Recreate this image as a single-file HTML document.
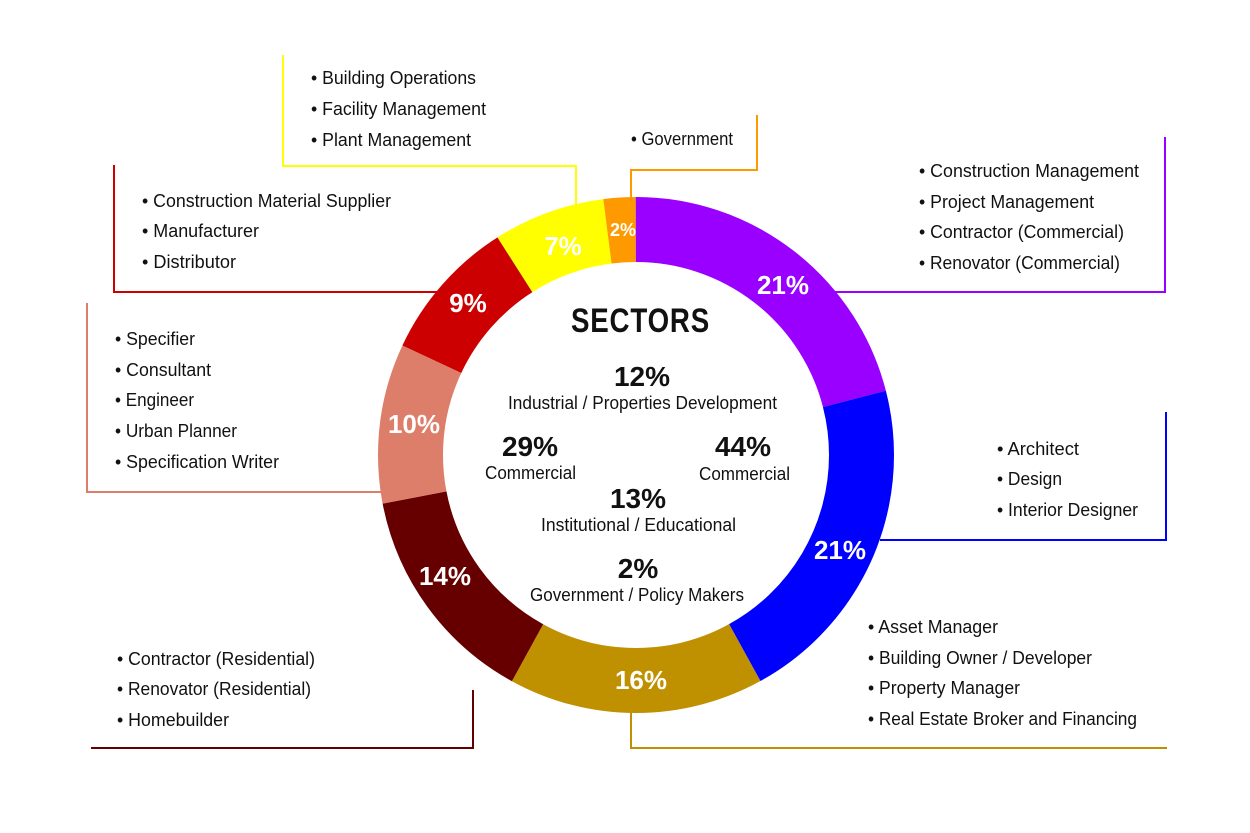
<!DOCTYPE html>
<html><head><meta charset="utf-8"><style>
html,body{margin:0;padding:0;background:#fff;}
svg{display:block;}
text{font-family:"Liberation Sans",sans-serif;}
.l{font-size:18px;fill:#111;}
.p{font-size:26px;font-weight:bold;fill:#fff;}
.c{font-size:28px;font-weight:bold;fill:#111;}
</style></head><body>
<svg width="1250" height="833" viewBox="0 0 1250 833">
<g transform="rotate(-90 636 455)" fill="none" stroke-width="65">
<circle cx="636" cy="455" r="225.5" pathLength="100" stroke="#9900ff" stroke-dasharray="21 79" stroke-dashoffset="0"/>
<circle cx="636" cy="455" r="225.5" pathLength="100" stroke="#0000ff" stroke-dasharray="21 79" stroke-dashoffset="-21"/>
<circle cx="636" cy="455" r="225.5" pathLength="100" stroke="#bf9000" stroke-dasharray="16 84" stroke-dashoffset="-42"/>
<circle cx="636" cy="455" r="225.5" pathLength="100" stroke="#660000" stroke-dasharray="14 86" stroke-dashoffset="-58"/>
<circle cx="636" cy="455" r="225.5" pathLength="100" stroke="#dd7e6b" stroke-dasharray="10 90" stroke-dashoffset="-72"/>
<circle cx="636" cy="455" r="225.5" pathLength="100" stroke="#cc0000" stroke-dasharray="9 91" stroke-dashoffset="-82"/>
<circle cx="636" cy="455" r="225.5" pathLength="100" stroke="#ffff00" stroke-dasharray="7 93" stroke-dashoffset="-91"/>
<circle cx="636" cy="455" r="225.5" pathLength="100" stroke="#ff9900" stroke-dasharray="2 98" stroke-dashoffset="-98"/>
</g>
<g fill="none" stroke-width="2">
<polyline stroke="#ffff00" points="283,55 283,166 576,166 576,205"/>
<polyline stroke="#ff9900" points="757,115 757,170 631,170 631,200"/>
<polyline stroke="#9900ff" points="835,292 1165,292 1165,137"/>
<polyline stroke="#0000ff" points="880,540 1166,540 1166,412"/>
<polyline stroke="#bf9000" points="631,712 631,748 1167,748"/>
<polyline stroke="#660000" points="473,690 473,748 91,748"/>
<polyline stroke="#dd7e6b" points="381,492 87,492 87,303"/>
<polyline stroke="#cc0000" points="440,292 114,292 114,165"/>
</g>
<g class="p" text-anchor="middle">
<text x="783" y="294">21%</text>
<text x="840" y="559">21%</text>
<text x="641" y="689">16%</text>
<text x="445" y="585">14%</text>
<text x="414" y="433">10%</text>
<text x="468" y="312">9%</text>
<text x="563" y="255">7%</text>
<text x="623" y="236" style="font-size:18px">2%</text>
</g>
<g class="l" lengthAdjust="spacingAndGlyphs">
<text x="311" y="84" textLength="165" lengthAdjust="spacingAndGlyphs">• Building Operations</text>
<text x="311" y="115" textLength="175" lengthAdjust="spacingAndGlyphs">• Facility Management</text>
<text x="311" y="146" textLength="160" lengthAdjust="spacingAndGlyphs">• Plant Management</text>
<text x="631" y="145" textLength="102" lengthAdjust="spacingAndGlyphs">• Government</text>
<text x="919" y="177" textLength="220" lengthAdjust="spacingAndGlyphs">• Construction Management</text>
<text x="919" y="208" textLength="175" lengthAdjust="spacingAndGlyphs">• Project Management</text>
<text x="919" y="238" textLength="205" lengthAdjust="spacingAndGlyphs">• Contractor (Commercial)</text>
<text x="919" y="269" textLength="201" lengthAdjust="spacingAndGlyphs">• Renovator (Commercial)</text>
<text x="142" y="207" textLength="249" lengthAdjust="spacingAndGlyphs">• Construction Material Supplier</text>
<text x="142" y="237" textLength="117" lengthAdjust="spacingAndGlyphs">• Manufacturer</text>
<text x="142" y="268" textLength="94" lengthAdjust="spacingAndGlyphs">• Distributor</text>
<text x="115" y="345" textLength="80" lengthAdjust="spacingAndGlyphs">• Specifier</text>
<text x="115" y="376" textLength="96" lengthAdjust="spacingAndGlyphs">• Consultant</text>
<text x="115" y="406" textLength="79" lengthAdjust="spacingAndGlyphs">• Engineer</text>
<text x="115" y="437" textLength="122" lengthAdjust="spacingAndGlyphs">• Urban Planner</text>
<text x="115" y="468" textLength="164" lengthAdjust="spacingAndGlyphs">• Specification Writer</text>
<text x="997" y="455" textLength="82" lengthAdjust="spacingAndGlyphs">• Architect</text>
<text x="997" y="485" textLength="65" lengthAdjust="spacingAndGlyphs">• Design</text>
<text x="997" y="516" textLength="141" lengthAdjust="spacingAndGlyphs">• Interior Designer</text>
<text x="868" y="633" textLength="130" lengthAdjust="spacingAndGlyphs">• Asset Manager</text>
<text x="868" y="664" textLength="224" lengthAdjust="spacingAndGlyphs">• Building Owner / Developer</text>
<text x="868" y="694" textLength="152" lengthAdjust="spacingAndGlyphs">• Property Manager</text>
<text x="868" y="725" textLength="269" lengthAdjust="spacingAndGlyphs">• Real Estate Broker and Financing</text>
<text x="117" y="665" textLength="198" lengthAdjust="spacingAndGlyphs">• Contractor (Residential)</text>
<text x="117" y="695" textLength="194" lengthAdjust="spacingAndGlyphs">• Renovator (Residential)</text>
<text x="117" y="726" textLength="112" lengthAdjust="spacingAndGlyphs">• Homebuilder</text>
</g>
<text x="571" y="332" textLength="139" lengthAdjust="spacingAndGlyphs" style="font-size:34px;font-weight:bold;fill:#111;letter-spacing:1px">SECTORS</text>
<g class="c" text-anchor="middle">
<text x="642" y="386">12%</text>
<text x="530" y="456">29%</text>
<text x="743" y="456">44%</text>
<text x="638" y="508">13%</text>
<text x="638" y="578">2%</text>
</g>
<g class="l">
<text x="508" y="409" textLength="269" lengthAdjust="spacingAndGlyphs">Industrial / Properties Development</text>
<text x="485" y="479" textLength="91" lengthAdjust="spacingAndGlyphs">Commercial</text>
<text x="699" y="480" textLength="91" lengthAdjust="spacingAndGlyphs">Commercial</text>
<text x="541" y="531" textLength="195" lengthAdjust="spacingAndGlyphs">Institutional / Educational</text>
<text x="530" y="601" textLength="214" lengthAdjust="spacingAndGlyphs">Government / Policy Makers</text>
</g>
</svg>
</body></html>
